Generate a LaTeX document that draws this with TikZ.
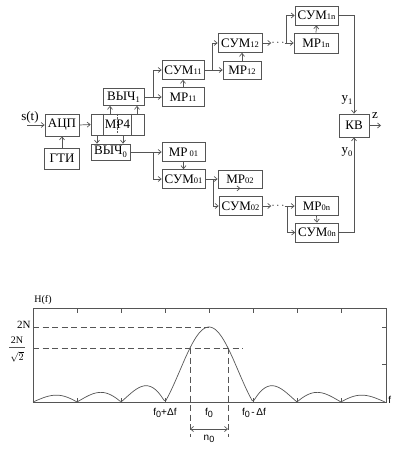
\documentclass[tikz,border=0pt]{standalone}
\usepackage{fontspec}
\setmainfont{Liberation Serif}
\setsansfont{Liberation Sans}
\usetikzlibrary{arrows.meta, calc}
\definecolor{cline}{HTML}{555555}
\tikzset{
  every picture/.style={line width=0.7pt},
  blk/.style={draw=cline, minimum width=#1, minimum height=19pt, inner sep=0pt, font=\fontsize{13}{13}\selectfont},
  blk/.default=43pt,
  lbl/.style={inner sep=0pt, font=\fontsize{13}{13}\selectfont},
  glbl/.style={inner sep=0pt, font=\sffamily\fontsize{10}{10}\selectfont},
  arr/.style={-{Straight Barb[length=3pt, width=5pt]}, draw=cline},
  dashln/.style={draw=cline, dash pattern=on 6pt off 3.5pt},
}
\newcommand{\subs}[1]{{\fontsize{8.5}{8.5}\selectfont #1}}
\newcommand{\subd}[1]{\raisebox{-2.5pt}{\fontsize{8.5}{8.5}\selectfont #1}}
\newcommand{\fsub}[1]{\raisebox{-2pt}{\fontsize{9}{9}\selectfont #1}}
\newcommand{\fork}[4]{% source, MP block, SUM block, x of the fork
  \draw[arr] (#1.east) -- (#2.west);
  \draw[arr] (#1.east -| #4,0) |- (#3.west);
}
\begin{document}
\begin{tikzpicture}[x=1pt, y=-1pt]
  \useasboundingbox (0,0) rectangle (403,450);
  % input part
  \node[lbl] (st) at (30,117) {s(t)};
  \coordinate (sin) at (27,125);
  \node[blk=34pt, minimum height=22pt] (adc) at (62,125) {АЦП};
  \node[blk=35pt, minimum height=21pt] (gti) at (62,158.5) {ГТИ};
  \node[blk=53pt, minimum height=21pt] (mp4) at (117.5,124.5) {};
  \draw[cline] ($(mp4.north west)+(13,0)$) -- ($(mp4.south west)+(13,0)$);
  \draw[cline] ($(mp4.north east)+(-13,0)$) -- ($(mp4.south east)+(-13,0)$);
  \draw[cline, dash pattern=on 2pt off 1.5pt] (mp4.north) -- (mp4.south);
  \node[lbl] (mp4txt) at (mp4) {МР4};
  \node[blk=41pt, minimum height=17pt] (vych1) at (123.5,97) {ВЫЧ\subd{1}};
  \node[blk=39pt, minimum height=16pt] (vych0) at (110.5,152) {ВЫЧ\subd{0}};
  \draw[arr] (sin) -- (adc.west);
  \draw[arr] (gti.north) -- (adc.south);
  \draw[arr] (adc.east) -- (mp4.west);
  \foreach \xx in {110,137} \draw[arr] (mp4.north -| \xx,0) -- (vych1.south -| \xx,0);
  \foreach \xx in {97,123} \draw[arr] (mp4.south -| \xx,0) -- (vych0.north -| \xx,0);
  % upper channel
  \node[blk=42pt] (sum11) at (183,70) {СУМ\subs{11}};
  \node[blk=42pt] (mr11) at (183,97) {МР\subs{11}};
  \node[blk=44pt] (sum12) at (240,43) {СУМ\subs{12}};
  \node[blk=38pt, minimum height=18pt] (mr12) at (242,70) {МР\subs{12}};
  \node[lbl, font=\fontsize{11}{11}\selectfont] (dots1) at (278,43) {$\cdots$};
  \node[blk=43pt] (sum1n) at (316.5,15.5) {СУМ\subs{1n}};
  \node[blk=44pt, minimum height=20pt] (mr1n) at (316,43) {МР\subs{1n}};
  \fork{vych1}{mr11}{sum11}{153}
  \fork{sum11}{mr12}{sum12}{212}
  \draw[arr] (sum12.east) -- (dots1.west);
  \fork{dots1}{mr1n}{sum1n}{286}
  \draw[arr] (mr11.north) -- (sum11.south);
  \draw[arr] (mr12.north) -- (mr12.north |- sum12.south);
  \draw[arr] (mr1n.north) -- (sum1n.south);
  % lower channel
  \node[blk=43pt] (mr01) at (183.5,152) {МР\,\subs{01}};
  \node[blk=43pt] (sum01) at (183.5,179) {СУМ\subs{01}};
  \node[blk=44pt, minimum height=18pt] (mr02) at (240,179) {МР\subs{02}};
  \node[blk=43pt] (sum02) at (240.5,206) {СУМ\subs{02}};
  \node[lbl, font=\fontsize{11}{11}\selectfont] (dots0) at (278,206) {$\cdots$};
  \node[blk=43pt] (mr0n) at (316.5,206) {МР\subs{0n}};
  \node[blk=43pt] (sum0n) at (317,232.5) {СУМ\subs{0n}};
  \fork{vych0}{mr01}{sum01}{153}
  \fork{sum01}{mr02}{sum02}{213}
  \draw[arr] (sum02.east) -- (dots0.west);
  \fork{dots0}{mr0n}{sum0n}{287}
  \draw[arr] (mr01.south) -- (sum01.north);
  \draw[arr] (mr02.south) -- (mr02.south -| sum02.north);
  \draw[arr] (mr0n.south) -- (sum0n.north);
  % decision block
  \node[blk=30pt, minimum height=23pt] (kv) at (354,125.5) {КВ};
  \coordinate (zout) at (381,125.5);
  \draw[arr] (sum1n.east) -| (kv.north);
  \draw[arr] (sum0n.east) -| (kv.south);
  \draw[arr] (kv.east) -- (zout);
  \node[lbl] (y1) at (347,100) {y\subd{1}};
  \node[lbl] (y0) at (347,152) {y\subd{0}};
  \node[lbl] (z) at (375,116) {z};
  % frequency response
  \draw[cline] (33,308) rectangle (386,402);
  \foreach \k in {1,...,7} \draw[cline] (33+44*\k,308) -- ++(0,5);
  \foreach \k in {1,2,3,5,6,7} \draw[cline] (33+44*\k,402) -- ++(0,-4);
  \foreach \yy in {327,364} \draw[cline] (386,\yy) -- ++(-4,0);
  \draw[cline, domain=-4:4, samples=200, variable=\u]
    plot ({209+44*\u}, {402-75*abs(sin(180*\u)/(pi*\u))});
  \draw[dashln] (33,327) -- (209,327);
  \draw[dashln] (33,348) -- (243,348);
  \draw[dashln] (190,348) -- (190,437);
  \draw[dashln] (228,348) -- (228,437);
  \draw[draw=cline, {Straight Barb[length=3pt, width=5pt]}-{Straight Barb[length=3pt, width=5pt]}] (190,429) -- (228,429);
  \node[glbl] (n0) at (209,439) {n\fsub{0}};
  \node[glbl] (fl) at (165,413) {f\fsub{0}+Δf};
  \node[glbl] (fc) at (209,413) {f\fsub{0}};
  \node[glbl] (fr) at (254,413) {f\fsub{0}\,-\,Δf};
  \node[glbl, anchor=west] (fax) at (388,400) {f};
  \node[lbl, font=\fontsize{10}{10}\selectfont] (hf) at (43,300) {H(f)};
  \node[lbl, font=\fontsize{11}{11}\selectfont, anchor=east] (n2) at (31,325) {2N};
  % 2N over root 2
  \node[lbl, font=\fontsize{10}{10}\selectfont, anchor=base] (n2num) at (17,343) {2N};
  \node[lbl, font=\fontsize{10}{10}\selectfont, anchor=north] (n2den) at (17,351) {$\sqrt{2}$};
  \draw[cline] (9,347) -- (25,347);
\end{tikzpicture}
\end{document}
